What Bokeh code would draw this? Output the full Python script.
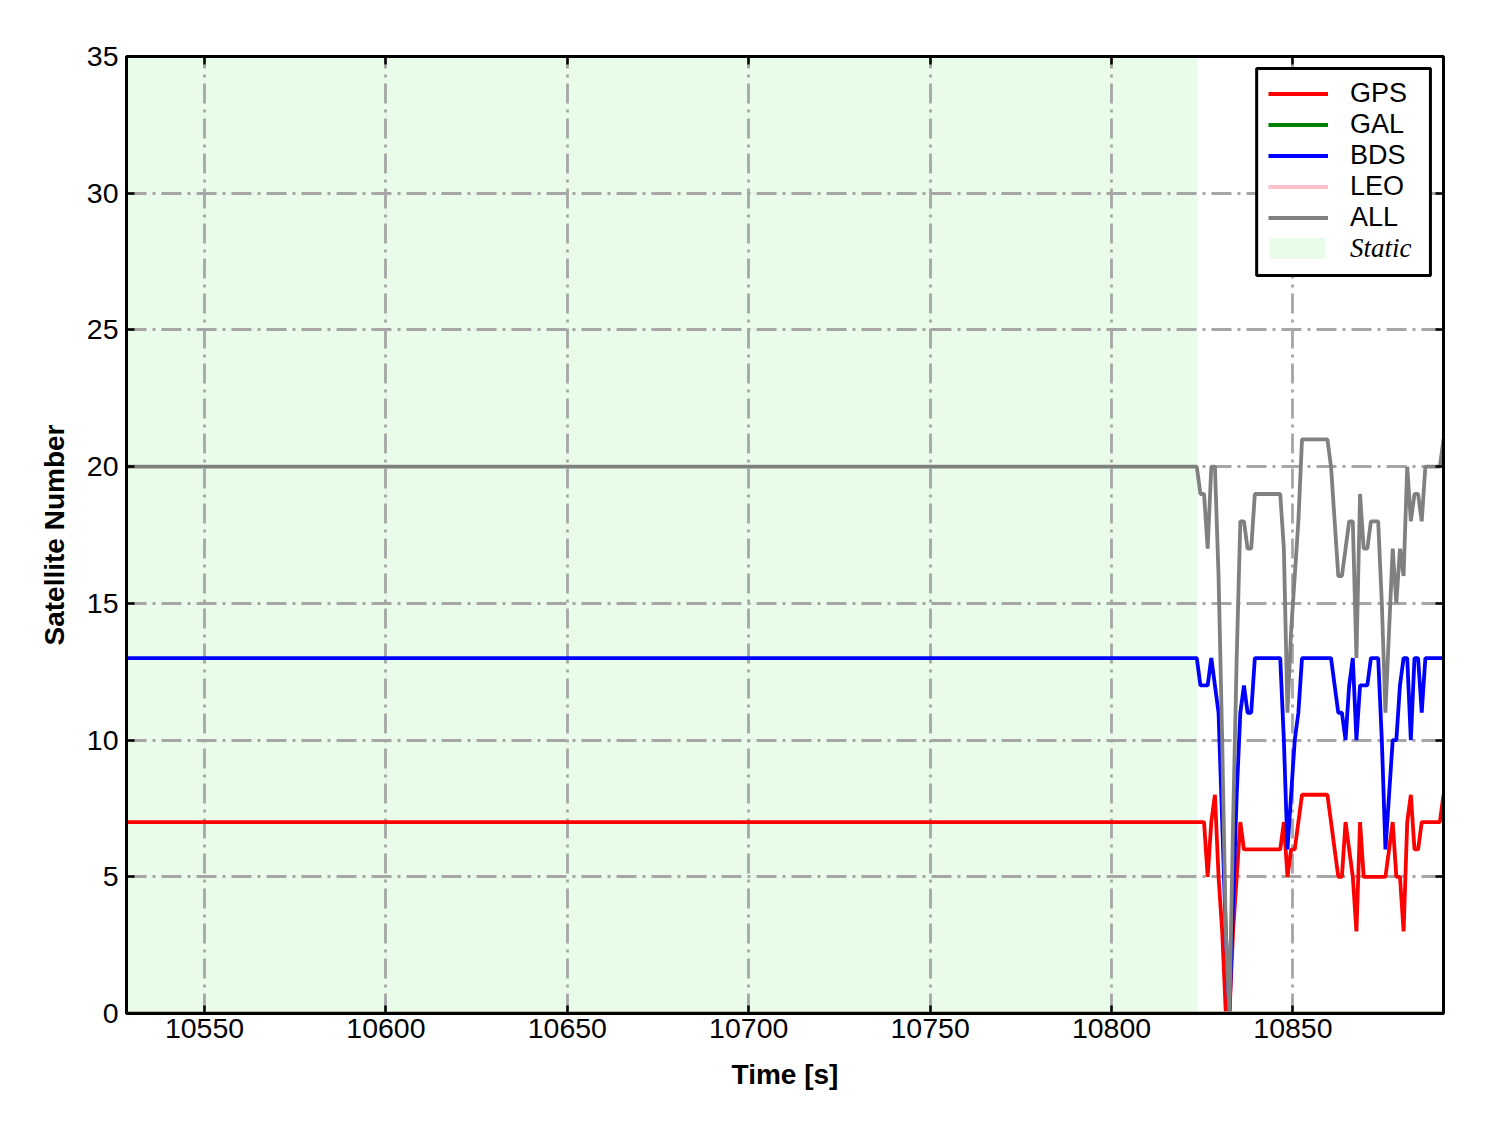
from bokeh.plotting import figure
from bokeh.models import (Range1d, LinearAxis, Legend, LegendItem, BoxAnnotation,
                          FixedTicker, CustomJSTickFormatter)
from bokeh.embed import file_html
from bokeh.resources import INLINE

# ---------------- data ----------------
TIME = [10528.5,
        10823.5, 10824.5, 10825.5, 10826.5, 10827.5, 10828.5, 10829.5, 10830.5, 10831.5, 10832.5,
        10833.5, 10834.5, 10835.5, 10836.5, 10837.5, 10838.5, 10839.5, 10840.5, 10841.5, 10842.5,
        10843.5, 10844.5, 10845.5, 10846.5, 10847.5, 10848.5, 10849.5, 10850.5, 10851.5, 10852.5,
        10853.5, 10854.5, 10855.5, 10856.5, 10857.5, 10858.5, 10859.5, 10860.5, 10861.5, 10862.5,
        10863.5, 10864.5, 10865.5, 10866.5, 10867.5, 10868.5, 10869.5, 10870.5, 10871.5, 10872.5,
        10873.5, 10874.5, 10875.5, 10876.5, 10877.5, 10878.5, 10879.5, 10880.5, 10881.5, 10882.5,
        10883.5, 10884.5, 10885.5, 10886.5, 10887.5, 10888.5, 10889.5, 10890.5, 10891.5]

GPS = [7,
       7, 7, 7, 5, 7, 8, 5, 3, 0, 0,
       3, 5, 7, 6, 6, 6, 6, 6, 6, 6,
       6, 6, 6, 6, 7, 5, 6, 6, 7, 8,
       8, 8, 8, 8, 8, 8, 8, 7, 6, 5,
       5, 7, 6, 5, 3, 7, 5, 5, 5, 5,
       5, 5, 5, 6, 7, 5, 5, 3, 7, 8,
       6, 6, 7, 7, 7, 7, 7, 7, 8]

# GAL and LEO contribute nothing (ALL = GPS + BDS); they sit on the x axis
GAL_TIME = [10528.5, 10891.5]
GAL = [0, 0]
LEO_TIME = [10528.5, 10891.5]
LEO = [0, 0]

BDS = [13,
       13, 12, 12, 12, 13, 12, 11, 7, 3, 0,
       4, 8, 11, 12, 11, 11, 13, 13, 13, 13,
       13, 13, 13, 13, 10, 6, 8, 10, 11, 13,
       13, 13, 13, 13, 13, 13, 13, 13, 12, 11,
       11, 10, 12, 13, 10, 12, 12, 12, 13, 13,
       13, 10, 6, 8, 10, 10, 12, 13, 13, 10,
       13, 13, 11, 13, 13, 13, 13, 13, 13]

ALL = [20,
       20, 19, 19, 17, 20, 20, 16, 10, 3, 0,
       7, 13, 18, 18, 17, 17, 19, 19, 19, 19,
       19, 19, 19, 19, 17, 11, 14, 16, 18, 21,
       21, 21, 21, 21, 21, 21, 21, 20, 18, 16,
       16, 17, 18, 18, 13, 19, 17, 17, 18, 18,
       18, 15, 11, 14, 17, 15, 17, 16, 20, 18,
       19, 19, 18, 20, 20, 20, 20, 20, 21]

STATIC_START = 10528.5
STATIC_END = 10823.7

X_TICKS = [10550, 10600, 10650, 10700, 10750, 10800, 10850]
Y_TICKS = [0, 5, 10, 15, 20, 25, 30, 35]

# ---------------- figure ----------------
p = figure(width=1480, height=1125, output_backend="svg", toolbar_location=None,
           x_range=Range1d(10528.5, 10891.5), y_range=Range1d(0, 35),
           min_border_left=126, min_border_right=37, min_border_top=56,
           min_border_bottom=112)
p.background_fill_color = "white"
p.border_fill_color = "white"
p.outline_line_color = "black"
p.outline_line_width = 3

FONT = "Liberation Sans"


def style_axis(ax, labels=True):
    ax.axis_line_color = "black"
    ax.axis_line_width = 3
    ax.major_tick_in = 8
    ax.major_tick_out = 0
    ax.major_tick_line_color = "black"
    ax.major_tick_line_width = 2.5
    ax.minor_tick_line_color = None
    ax.major_label_text_font = FONT
    ax.major_label_text_font_size = "28.5px"
    ax.major_label_text_color = "black"
    if not labels:
        ax.formatter = CustomJSTickFormatter(code="return ''")
        ax.major_label_text_font_size = "1px"
        ax.major_label_standoff = 0


xt = FixedTicker(ticks=X_TICKS)
yt = FixedTicker(ticks=Y_TICKS)
p.xaxis.ticker = xt
p.yaxis.ticker = yt
for ax in p.xaxis + p.yaxis:
    style_axis(ax)
p.xaxis.major_label_standoff = 5
p.yaxis.major_label_standoff = 8

p.xaxis.axis_label = "Time [s]"
p.yaxis.axis_label = "Satellite Number"
for ax in p.xaxis + p.yaxis:
    ax.axis_label_text_font = FONT
    ax.axis_label_text_font_size = "28px"
    ax.axis_label_text_font_style = "bold"
    ax.axis_label_text_color = "black"
p.xaxis.axis_label_standoff = 18
p.yaxis.axis_label_standoff = 14

top_ax = LinearAxis(ticker=FixedTicker(ticks=X_TICKS))
right_ax = LinearAxis(ticker=FixedTicker(ticks=Y_TICKS))
style_axis(top_ax, labels=False)
style_axis(right_ax, labels=False)
p.add_layout(top_ax, "above")
p.add_layout(right_ax, "right")

for g in (p.xgrid, p.ygrid):
    g.grid_line_color = "#a6a6a6"
    g.grid_line_width = 2.8
    g.grid_line_dash = "20 6 3 6"
p.xgrid.ticker = xt
p.ygrid.ticker = yt

# ---------------- glyphs ----------------
r_static = p.quad(left=[STATIC_START], right=[STATIC_END], bottom=[0], top=[35],
                  fill_color="lightgreen", fill_alpha=0.2, line_color=None, level="image")

LW = 3.8
r_gps = p.line(TIME, GPS, line_color="red", line_width=LW)
r_gal = p.line(GAL_TIME, GAL, line_color="green", line_width=LW)
r_bds = p.line(TIME, BDS, line_color="blue", line_width=LW)
r_leo = p.line(LEO_TIME, LEO, line_color="pink", line_width=LW)
r_all = p.line(TIME, ALL, line_color="gray", line_width=LW)

# ---------------- legend ----------------
box = BoxAnnotation(left=10840.0, right=10887.9, bottom=26.99, top=34.56,
                    fill_color="white", fill_alpha=1.0,
                    line_color="black", line_width=3, line_alpha=1.0)
p.add_layout(box)

legA = Legend(items=[LegendItem(label="GPS", renderers=[r_gps]),
                     LegendItem(label="GAL", renderers=[r_gal]),
                     LegendItem(label="BDS", renderers=[r_bds]),
                     LegendItem(label="LEO", renderers=[r_leo]),
                     LegendItem(label="ALL", renderers=[r_all])],
              location=(1142, 780.5), border_line_color=None,
              background_fill_alpha=0, padding=0, margin=0, spacing=0,
              glyph_width=60, glyph_height=31, label_height=31, label_standoff=22,
              label_text_font=FONT, label_text_font_size="27px",
              label_text_color="black")
legB = Legend(items=[LegendItem(label="Static", renderers=[r_static])],
              location=(1136, 749.5), border_line_color=None,
              background_fill_alpha=0, padding=0, margin=0, spacing=0,
              glyph_width=70, glyph_height=26, label_height=31, label_standoff=18,
              label_text_font="Liberation Serif", label_text_font_style="italic",
              label_text_font_size="27px", label_text_color="black")
p.add_layout(legA)
p.add_layout(legB)

open("out.html", "w").write(file_html(p, INLINE))
